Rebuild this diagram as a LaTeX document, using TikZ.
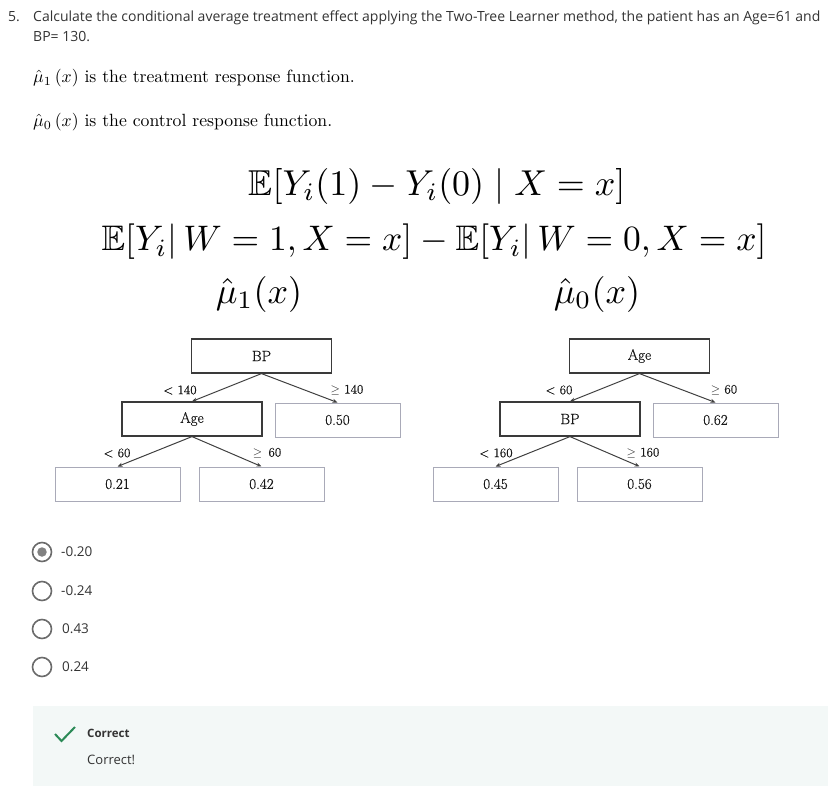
\documentclass[tikz,border=0pt]{standalone}
\usepackage{amssymb}
\usepackage{graphicx}
\usepackage{fontspec}
\newfontfamily\osans{Open Sans}
\newfontfamily\treefont[FakeBold=0.6]{Latin Modern Roman}
\usetikzlibrary{arrows.meta}
\definecolor{qtext}{HTML}{333333}
\definecolor{inbox}{HTML}{3A3A3A}
\definecolor{leafbox}{HTML}{A9AAB8}
\definecolor{radiog}{HTML}{6B6B6B}
\definecolor{okfill}{HTML}{F3F8F7}
\definecolor{okgreen}{HTML}{2B8A57}
\tikzset{
  qline/.style={anchor=base west, inner sep=0pt, text=qtext, font=\osans\fontsize{14}{16}\selectfont},
  serifline/.style={anchor=west, inner sep=0pt},
  formula/.style={inner sep=0pt},
  innode/.style={draw=inbox, line width=1.2pt, minimum width=140pt, minimum height=34pt, inner sep=0pt, font=\treefont\fontsize{15}{17}\selectfont, text=black!90},
  leaf/.style={draw=leafbox, line width=1pt, minimum width=125pt, minimum height=34pt, inner sep=0pt, font=\treefont\fontsize{15}{17}\selectfont, text=black!90},
  edgelab/.style={inner sep=0pt, font=\treefont\fontsize{13}{15}\selectfont, text=black!90},
  treeedge/.style={draw=black!75, line width=1pt, -{Stealth[length=5pt,width=4pt]}},
  radio/.style={circle, draw=radiog, line width=1.6pt, minimum size=19pt, inner sep=0pt},
  radiodot/.style={circle, fill=radiog!85, minimum size=9.5pt, inner sep=0pt},
  answer/.style={anchor=west, inner sep=0pt, text=qtext, font=\osans\fontsize{13.5}{15}\selectfont},
}
\begin{document}
\begin{tikzpicture}[x=1pt,y=-1pt]
\useasboundingbox (0,0) rectangle (828,792);
% question
\node[qline] (qnum) at (8,21.7) {5.};
\node[qline] (qa) at (33,21.7) {Calculate the conditional average treatment effect applying the Two-Tree Learner method, the patient has an Age=61 and};
\node[qline] (qb) at (33,42) {BP= 130.};
% serif sentences
\node[serifline] (s1) at (33,78) {\scalebox{1.77}{$\hat{\mu}_1\left(x\right)$ is the treatment response function.}};
\node[serifline] (s0) at (33,122) {\scalebox{1.77}{$\hat{\mu}_0\left(x\right)$ is the control response function.}};
% formulas
\node[formula] (f1) at (437,186) {\scalebox{3.6}{$\mathbb{E}[Y_i(1)-Y_i(0)\mid X=x]$}};
\node[formula] (f2) at (434,242) {\scalebox{3.55}{$\mathbb{E}[Y_i|\,W=1,X=x]-\mathbb{E}[Y_i|\,W=0,X=x]$}};
\node[formula] (m1) at (259,294) {\scalebox{3.6}{$\hat{\mu}_1(x)$}};
\node[formula] (m0) at (597,294) {\scalebox{3.6}{$\hat{\mu}_0(x)$}};
% left tree
\node[innode] (lbp) at (261.5,356) {BP};
\node[innode] (lage) at (192,419) {Age};
\node[leaf] (l50) at (337.5,420) {0.50};
\node[leaf] (l21) at (117.5,484) {0.21};
\node[leaf] (l42) at (261.5,484) {0.42};
\draw[treeedge] (lbp.south) -- (lage.north);
\draw[treeedge] (lbp.south) -- (l50.north);
\draw[treeedge] (lage.south) -- (l21.north);
\draw[treeedge] (lage.south) -- (l42.north);
\node[edgelab] (la1) at (180,390) {< 140};
\node[edgelab] (la2) at (347,390) {$\geq$ 140};
\node[edgelab] (la3) at (117,453) {< 60};
\node[edgelab] (la4) at (267,453) {$\geq$\, 60};
% right tree
\node[innode] (rage) at (639.5,356) {Age};
\node[innode] (rbp) at (570,419) {BP};
\node[leaf] (r62) at (715.5,420) {0.62};
\node[leaf] (r45) at (495.5,484) {0.45};
\node[leaf] (r56) at (639.5,484) {0.56};
\draw[treeedge] (rage.south) -- (rbp.north);
\draw[treeedge] (rage.south) -- (r62.north);
\draw[treeedge] (rbp.south) -- (r45.north);
\draw[treeedge] (rbp.south) -- (r56.north);
\node[edgelab] (ra1) at (559,390) {< 60};
\node[edgelab] (ra2) at (724,390) {$\geq$ 60};
\node[edgelab] (ra3) at (496,453) {< 160};
\node[edgelab] (ra4) at (643,453) {$\geq$ 160};
% answers
\node[radio] (o1) at (42,552) {};
\node[radiodot] (o1d) at (o1.center) {};
\node[radio] (o2) at (42,591) {};
\node[radio] (o3) at (42,629) {};
\node[radio] (o4) at (42,667) {};
\node[answer] (t1) at (61,552) {-0.20};
\node[answer] (t2) at (61,591) {-0.24};
\node[answer] (t3) at (62,629) {0.43};
\node[answer] (t4) at (62,667) {0.24};
% feedback
\fill[okfill] (33,706) rectangle (828,786);
\coordinate (ck1) at (55,734);
\coordinate (ck2) at (61.5,741);
\coordinate (ck3) at (75,727);
\draw[okgreen, line width=2pt] (ck1) -- (ck2) -- (ck3);
\node[anchor=west, inner sep=0pt, text=qtext, font=\osans\bfseries\fontsize{11.5}{13}\selectfont] (fb1) at (87,733) {Correct};
\node[anchor=west, inner sep=0pt, text=qtext, font=\osans\fontsize{13}{15}\selectfont] (fb2) at (87,760) {Correct!};
\end{tikzpicture}
\end{document}
